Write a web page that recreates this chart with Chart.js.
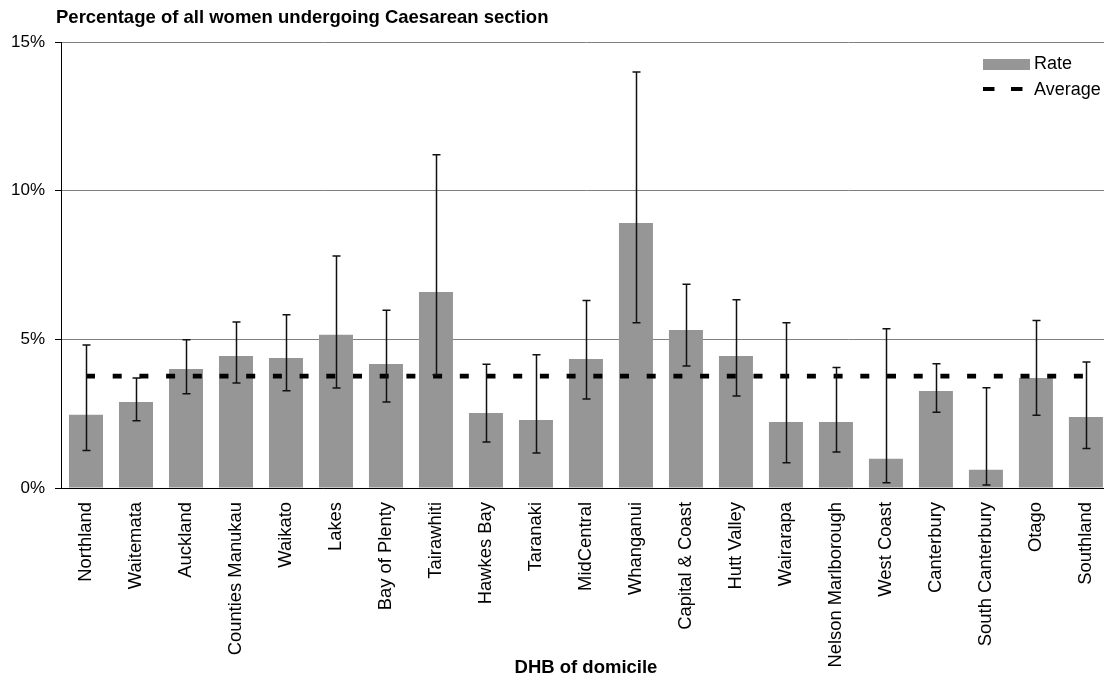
<!DOCTYPE html>
<html>
<head>
<meta charset="utf-8">
<title>Caesarean section by DHB</title>
<script src="https://cdn.jsdelivr.net/npm/chart.js@4/dist/chart.umd.min.js"></script>
<style>
    html, body { margin: 0; padding: 0; background: #fff; overflow: hidden; }
    #chart { display: block; }
</style>
</head>
<body>
<canvas id="chart" width="1122" height="679"></canvas>
<script>
// DHB categories
const dhbNames = [
    'Northland', 'Waitemata', 'Auckland', 'Counties Manukau', 'Waikato', 'Lakes',
    'Bay of Plenty', 'Tairawhiti', 'Hawkes Bay', 'Taranaki', 'MidCentral', 'Whanganui',
    'Capital & Coast', 'Hutt Valley', 'Wairarapa', 'Nelson Marlborough', 'West Coast',
    'Canterbury', 'South Canterbury', 'Otago', 'Southland'
];

// Rate (%) and 95% confidence limits
const rateValues = [2.46, 2.89, 4.00, 4.44, 4.37, 5.15, 4.17, 6.59, 2.52, 2.29, 4.34, 8.91,
    5.31, 4.44, 2.22, 2.22, 0.98, 3.26, 0.61, 3.70, 2.39];
const lowerLimits = [1.26, 2.26, 3.17, 3.53, 3.27, 3.36, 2.89, 3.81, 1.55, 1.18, 2.99, 5.56,
    4.10, 3.09, 0.85, 1.21, 0.18, 2.55, 0.10, 2.45, 1.33];
const upperLimits = [4.81, 3.70, 4.99, 5.58, 5.83, 7.80, 5.98, 11.21, 4.16, 4.48, 6.31, 13.99,
    6.85, 6.33, 5.56, 4.05, 5.36, 4.18, 3.37, 5.63, 4.24];

// National average (%)
const averageRate = 3.76;

// Y axis ticks
const yTicks = [0, 5, 10, 15];

const FONT = "'Liberation Sans', Arial, sans-serif";
const BAR_GREY = '#969696';

// Error bars drawn from the scales
const errorBarPlugin = {
    id: 'errorBars',
    afterDatasetsDraw(chart) {
        const ctx = chart.ctx;
        const x = chart.scales.x;
        const y = chart.scales.y;
        ctx.save();
        ctx.strokeStyle = '#111';
        ctx.lineWidth = 1.5;
        lowerLimits.forEach((lo, i) => {
            const px = Math.round(x.getPixelForValue(i)) + 0.5;
            const top = y.getPixelForValue(upperLimits[i]);
            const bottom = y.getPixelForValue(lo);
            ctx.beginPath();
            ctx.moveTo(px, top);
            ctx.lineTo(px, bottom);
            ctx.moveTo(px - 4, top);
            ctx.lineTo(px + 4, top);
            ctx.moveTo(px - 4, bottom);
            ctx.lineTo(px + 4, bottom);
            ctx.stroke();
        });
        ctx.restore();
    }
};

// Title and legend drawn inside the plot area
const decorPlugin = {
    id: 'decor',
    afterDraw(chart) {
        const ctx = chart.ctx;
        ctx.save();
        ctx.fillStyle = '#000';
        ctx.textBaseline = 'alphabetic';
        ctx.textAlign = 'left';
        ctx.font = 'bold 18.5px ' + FONT;
        ctx.fillText('Percentage of all women undergoing Caesarean section', 56, 23);

        const lx = 983;
        ctx.fillStyle = BAR_GREY;
        ctx.fillRect(lx, 59, 47, 11);
        ctx.strokeStyle = '#000';
        ctx.lineWidth = 4;
        ctx.setLineDash([11.5, 16.5]);
        ctx.beginPath();
        ctx.moveTo(lx, 89);
        ctx.lineTo(lx + 40, 89);
        ctx.stroke();
        ctx.setLineDash([]);

        ctx.fillStyle = '#000';
        ctx.font = '18px ' + FONT;
        ctx.textBaseline = 'middle';
        ctx.fillText('Rate', lx + 51, 64.5);
        ctx.fillText('Average', lx + 51, 90);
        ctx.restore();
    }
};

const chart = new Chart(
    document.getElementById('chart'),
    {
        type: 'bar',
        data: {
            labels: dhbNames,
            datasets: [
                {
                    type: 'line',
                    label: 'Average',
                    data: dhbNames.map(() => averageRate),
                    borderColor: '#000',
                    borderWidth: 4.7,
                    borderDash: [9, 17.7],
                    borderCapStyle: 'butt',
                    pointRadius: 0,
                    fill: false,
                    tension: 0,
                    order: 0
                },
                {
                    label: 'Rate',
                    data: rateValues,
                    backgroundColor: BAR_GREY,
                    borderWidth: 0,
                    categoryPercentage: 1,
                    barPercentage: 0.68,
                    order: 1
                }
            ]
        },
        options: {
            responsive: false,
            devicePixelRatio: 1,
            animation: false,
            events: [],
            layout: { padding: { top: 42, right: 0, left: 0, bottom: 0 } },
            plugins: {
                legend: { display: false },
                tooltip: { enabled: false },
                title: { display: false }
            },
            scales: {
                x: {
                    offset: true,
                    grid: { display: false, drawTicks: false },
                    border: { display: true, color: '#000', width: 1 },
                    ticks: {
                        minRotation: 90,
                        maxRotation: 90,
                        autoSkip: false,
                        padding: 14,
                        color: '#000',
                        font: { family: FONT, size: 18.4 }
                    },
                    title: {
                        display: true,
                        text: 'DHB of domicile',
                        color: '#000',
                        font: { family: FONT, size: 18.5, weight: 'bold' },
                        padding: { top: 0, bottom: 0 }
                    },
                    afterFit(scale) { scale.height = 191; }
                },
                y: {
                    min: 0,
                    max: 15,
                    afterBuildTicks(scale) {
                        scale.ticks = yTicks.map(v => ({ value: v }));
                    },
                    grid: {
                        color: '#808080',
                        lineWidth: 1,
                        drawTicks: true,
                        tickLength: 6,
                        tickColor: '#000'
                    },
                    border: { display: true, color: '#000', width: 1 },
                    ticks: {
                        padding: 10,
                        color: '#000',
                        font: { family: FONT, size: 17 },
                        callback: v => v + '%'
                    },
                    afterFit(scale) { scale.width = 61; }
                }
            }
        },
        plugins: [errorBarPlugin, decorPlugin]
    }
);
</script>
</body>
</html>
